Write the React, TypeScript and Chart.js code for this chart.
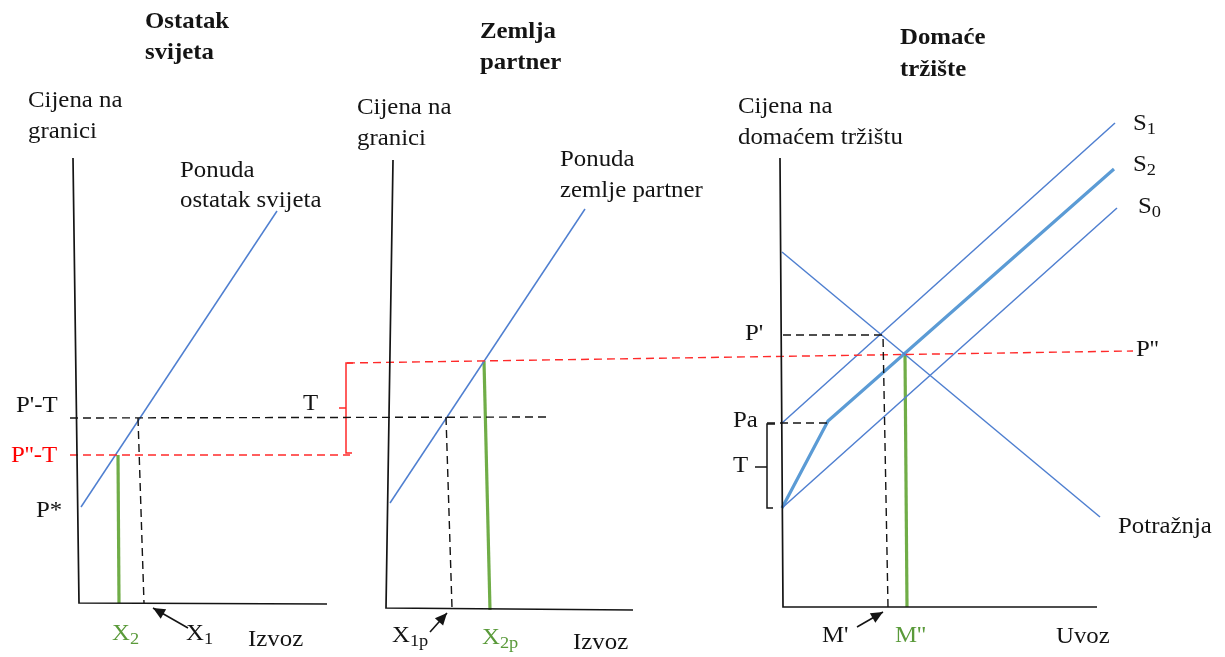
import React, { useEffect, useRef } from "react";
import { Chart, registerables } from "chart.js";

Chart.register(...registerables);

type P = { x: number; y: number };

// ---- Panel 1: Ostatak svijeta (rest of world) ----
const axisRest: P[] = [{ x: 73, y: 158 }, { x: 79, y: 603 }, { x: 327, y: 604 }];
const supplyRest: P[] = [{ x: 81, y: 507 }, { x: 277, y: 211 }];
const priceTLine: P[] = [{ x: 70, y: 418 }, { x: 547, y: 417 }];
const x1Drop: P[] = [{ x: 138, y: 418 }, { x: 144, y: 603 }];
const price2TLine: P[] = [{ x: 70, y: 455 }, { x: 350, y: 455 }];
const x2Green: P[] = [{ x: 118, y: 455 }, { x: 119, y: 603 }];
const arrowX1: P[] = [{ x: 188, y: 628 }, { x: 153, y: 608 }];
const bracketRed: P[] = [{ x: 353, y: 363 }, { x: 346, y: 363 }, { x: 346, y: 453 }, { x: 352, y: 453 }];
const bracketRedTick: P[] = [{ x: 339, y: 408 }, { x: 346, y: 408 }];

// ---- Panel 2: Zemlja partner ----
const axisPartner: P[] = [{ x: 393, y: 160 }, { x: 386, y: 608 }, { x: 633, y: 610 }];
const supplyPartner: P[] = [{ x: 390, y: 503 }, { x: 585, y: 209 }];
const x1pDrop: P[] = [{ x: 446, y: 417 }, { x: 452, y: 608 }];
const x2pGreen: P[] = [{ x: 484, y: 361 }, { x: 490, y: 610 }];
const arrowX1p: P[] = [{ x: 430, y: 632 }, { x: 447, y: 613 }];
const price2Line: P[] = [{ x: 347, y: 363 }, { x: 1133, y: 351 }];

// ---- Panel 3: Domaće tržište ----
const axisHome: P[] = [{ x: 780, y: 158 }, { x: 783, y: 607 }, { x: 1097, y: 607 }];
const demand: P[] = [{ x: 782, y: 252 }, { x: 1100, y: 517 }];
const supplyS1: P[] = [{ x: 782, y: 423 }, { x: 1115, y: 123 }];
const supplyS0: P[] = [{ x: 782, y: 508 }, { x: 1117, y: 208 }];
const supplyS2: P[] = [{ x: 782, y: 508 }, { x: 828, y: 421 }, { x: 1114, y: 169 }];
const pPrimeLine: P[] = [{ x: 783, y: 335 }, { x: 883, y: 335 }, { x: 888, y: 607 }];
const paLine: P[] = [{ x: 767, y: 423 }, { x: 828, y: 423 }];
const m2Green: P[] = [{ x: 905, y: 354 }, { x: 907, y: 607 }];
const arrowM1: P[] = [{ x: 857, y: 627 }, { x: 883, y: 612 }];
const bracketBlack: P[] = [{ x: 775, y: 424 }, { x: 767, y: 424 }, { x: 767, y: 508 }, { x: 773, y: 508 }];
const bracketBlackTick: P[] = [{ x: 755, y: 467 }, { x: 767, y: 467 }];

// ---- Text labels ----
type Label = { x: number; y: number; text: string; sub?: string; bold?: boolean; color?: string };
const titleLabels: Label[] = [
  { x: 145, y: 22, text: "Ostatak", bold: true },
  { x: 145, y: 53, text: "svijeta", bold: true },
  { x: 480, y: 32, text: "Zemlja", bold: true },
  { x: 480, y: 63, text: "partner", bold: true },
  { x: 900, y: 38, text: "Domaće", bold: true },
  { x: 900, y: 70, text: "tržište", bold: true },
];
const axisLabels: Label[] = [
  { x: 28, y: 101, text: "Cijena na" },
  { x: 28, y: 132, text: "granici" },
  { x: 357, y: 108, text: "Cijena na" },
  { x: 357, y: 139, text: "granici" },
  { x: 738, y: 107, text: "Cijena na" },
  { x: 738, y: 138, text: "domaćem tržištu" },
  { x: 248, y: 640, text: "Izvoz" },
  { x: 573, y: 643, text: "Izvoz" },
  { x: 1056, y: 637, text: "Uvoz" },
];
const curveLabels: Label[] = [
  { x: 180, y: 171, text: "Ponuda" },
  { x: 180, y: 201, text: "ostatak svijeta" },
  { x: 560, y: 160, text: "Ponuda" },
  { x: 560, y: 191, text: "zemlje partner" },
  { x: 1133, y: 124, text: "S", sub: "1" },
  { x: 1133, y: 165, text: "S", sub: "2" },
  { x: 1138, y: 207, text: "S", sub: "0" },
  { x: 1118, y: 527, text: "Potražnja" },
];
const pointLabels: Label[] = [
  { x: 16, y: 406, text: "P'-T" },
  { x: 11, y: 456, text: "P''-T", color: "#ff0000" },
  { x: 36, y: 511, text: "P*" },
  { x: 303, y: 404, text: "T" },
  { x: 112, y: 634, text: "X", sub: "2", color: "#5a9a3a" },
  { x: 186, y: 634, text: "X", sub: "1" },
  { x: 392, y: 636, text: "X", sub: "1p" },
  { x: 482, y: 638, text: "X", sub: "2p", color: "#5a9a3a" },
  { x: 745, y: 334, text: "P'" },
  { x: 1136, y: 350, text: "P''" },
  { x: 733, y: 421, text: "Pa" },
  { x: 733, y: 466, text: "T" },
  { x: 822, y: 636, text: "M'" },
  { x: 895, y: 636, text: "M''", color: "#5a9a3a" },
];

const BLUE = "#4f7fd0";
const BLUE2 = "#5b9bd5";
const GREEN = "#70ad47";
const RED = "#ff2a2a";
const BLACK = "#141414";

function line(data: P[], color: string, width: number, dash: number[] = [], extra: any = {}) {
  return {
    data,
    showLine: true,
    borderColor: color,
    backgroundColor: color,
    borderWidth: width,
    borderDash: dash,
    pointRadius: 0,
    pointHoverRadius: 0,
    fill: false,
    tension: 0,
    ...extra,
  };
}

const FONT = '"Liberation Serif", "Times New Roman", serif';

const labelPlugin = {
  id: "labels",
  afterDatasetsDraw(chart: any) {
    const { ctx, scales } = chart;
    const all = [...titleLabels, ...axisLabels, ...curveLabels, ...pointLabels];
    for (const l of all) {
      const px = scales.x.getPixelForValue(l.x);
      const py = scales.y.getPixelForValue(l.y);
      ctx.save();
      ctx.translate(px, py);
      ctx.scale(1.08, 1);
      ctx.fillStyle = l.color || BLACK;
      ctx.textBaseline = "middle";
      ctx.textAlign = "left";
      ctx.font = `${l.bold ? "bold " : ""}23px ${FONT}`;
      ctx.fillText(l.text, 0, 0);
      if (l.sub) {
        const w = ctx.measureText(l.text).width;
        ctx.font = `17px ${FONT}`;
        ctx.fillText(l.sub, w, 6);
      }
      ctx.restore();
    }
  },
};

const arrowPlugin = {
  id: "arrows",
  afterDatasetsDraw(chart: any) {
    const { ctx } = chart;
    chart.data.datasets.forEach((ds: any, i: number) => {
      if (!ds.arrowHead) return;
      const pts = chart.getDatasetMeta(i).data;
      const a = pts[pts.length - 2];
      const b = pts[pts.length - 1];
      const ang = Math.atan2(b.y - a.y, b.x - a.x);
      const len = 12;
      const half = 5.5;
      ctx.save();
      ctx.fillStyle = ds.borderColor;
      ctx.beginPath();
      ctx.moveTo(b.x, b.y);
      ctx.lineTo(b.x - len * Math.cos(ang) + half * Math.sin(ang), b.y - len * Math.sin(ang) - half * Math.cos(ang));
      ctx.lineTo(b.x - len * Math.cos(ang) - half * Math.sin(ang), b.y - len * Math.sin(ang) + half * Math.cos(ang));
      ctx.closePath();
      ctx.fill();
      ctx.restore();
    });
  },
};

export default function App() {
  const ref = useRef<HTMLCanvasElement>(null);
  useEffect(() => {
    document.body.style.margin = "0";
    const canvas = ref.current!;
    const datasets: any[] = [
      line(axisRest, BLACK, 1.7),
      line(axisPartner, BLACK, 1.7),
      line(axisHome, BLACK, 1.7),
      line(priceTLine, BLACK, 1.4, [8, 5]),
      line(x1Drop, BLACK, 1.4, [8, 5]),
      line(x1pDrop, BLACK, 1.4, [8, 5]),
      line(pPrimeLine, BLACK, 1.4, [8, 5]),
      line(paLine, BLACK, 1.4, [8, 5]),
      line(price2TLine, RED, 1.4, [8, 5]),
      line(price2Line, RED, 1.4, [8, 5]),
      line(supplyRest, BLUE, 1.5),
      line(supplyPartner, BLUE, 1.5),
      line(demand, BLUE, 1.5),
      line(supplyS1, BLUE, 1.5),
      line(supplyS0, BLUE, 1.5),
      line(supplyS2, BLUE2, 3.2),
      line(x2Green, GREEN, 3.2),
      line(x2pGreen, GREEN, 3.2),
      line(m2Green, GREEN, 3.2),
      line(bracketRed, RED, 1.5),
      line(bracketRedTick, RED, 1.5),
      line(bracketBlack, BLACK, 1.5),
      line(bracketBlackTick, BLACK, 1.5),
      line(arrowX1, BLACK, 1.6, [], { arrowHead: true }),
      line(arrowX1p, BLACK, 1.6, [], { arrowHead: true }),
      line(arrowM1, BLACK, 1.6, [], { arrowHead: true }),
    ];
    const chart = new Chart(canvas, {
      type: "scatter",
      data: { datasets },
      options: {
        animation: false,
        responsive: false,
        devicePixelRatio: 1,
        layout: { padding: 0 },
        scales: {
          x: { type: "linear", min: 0, max: 1225, display: false },
          y: { type: "linear", min: 0, max: 657, reverse: true, display: false },
        },
        plugins: { legend: { display: false }, tooltip: { enabled: false } },
        events: [],
      },
      plugins: [labelPlugin, arrowPlugin],
    });
    return () => chart.destroy();
  }, []);
  return (
    <div style={{ position: "absolute", left: 0, top: 0, width: 1225, height: 657, background: "#fff" }}>
      <canvas ref={ref} width={1225} height={657} style={{ display: "block" }} />
    </div>
  );
}
